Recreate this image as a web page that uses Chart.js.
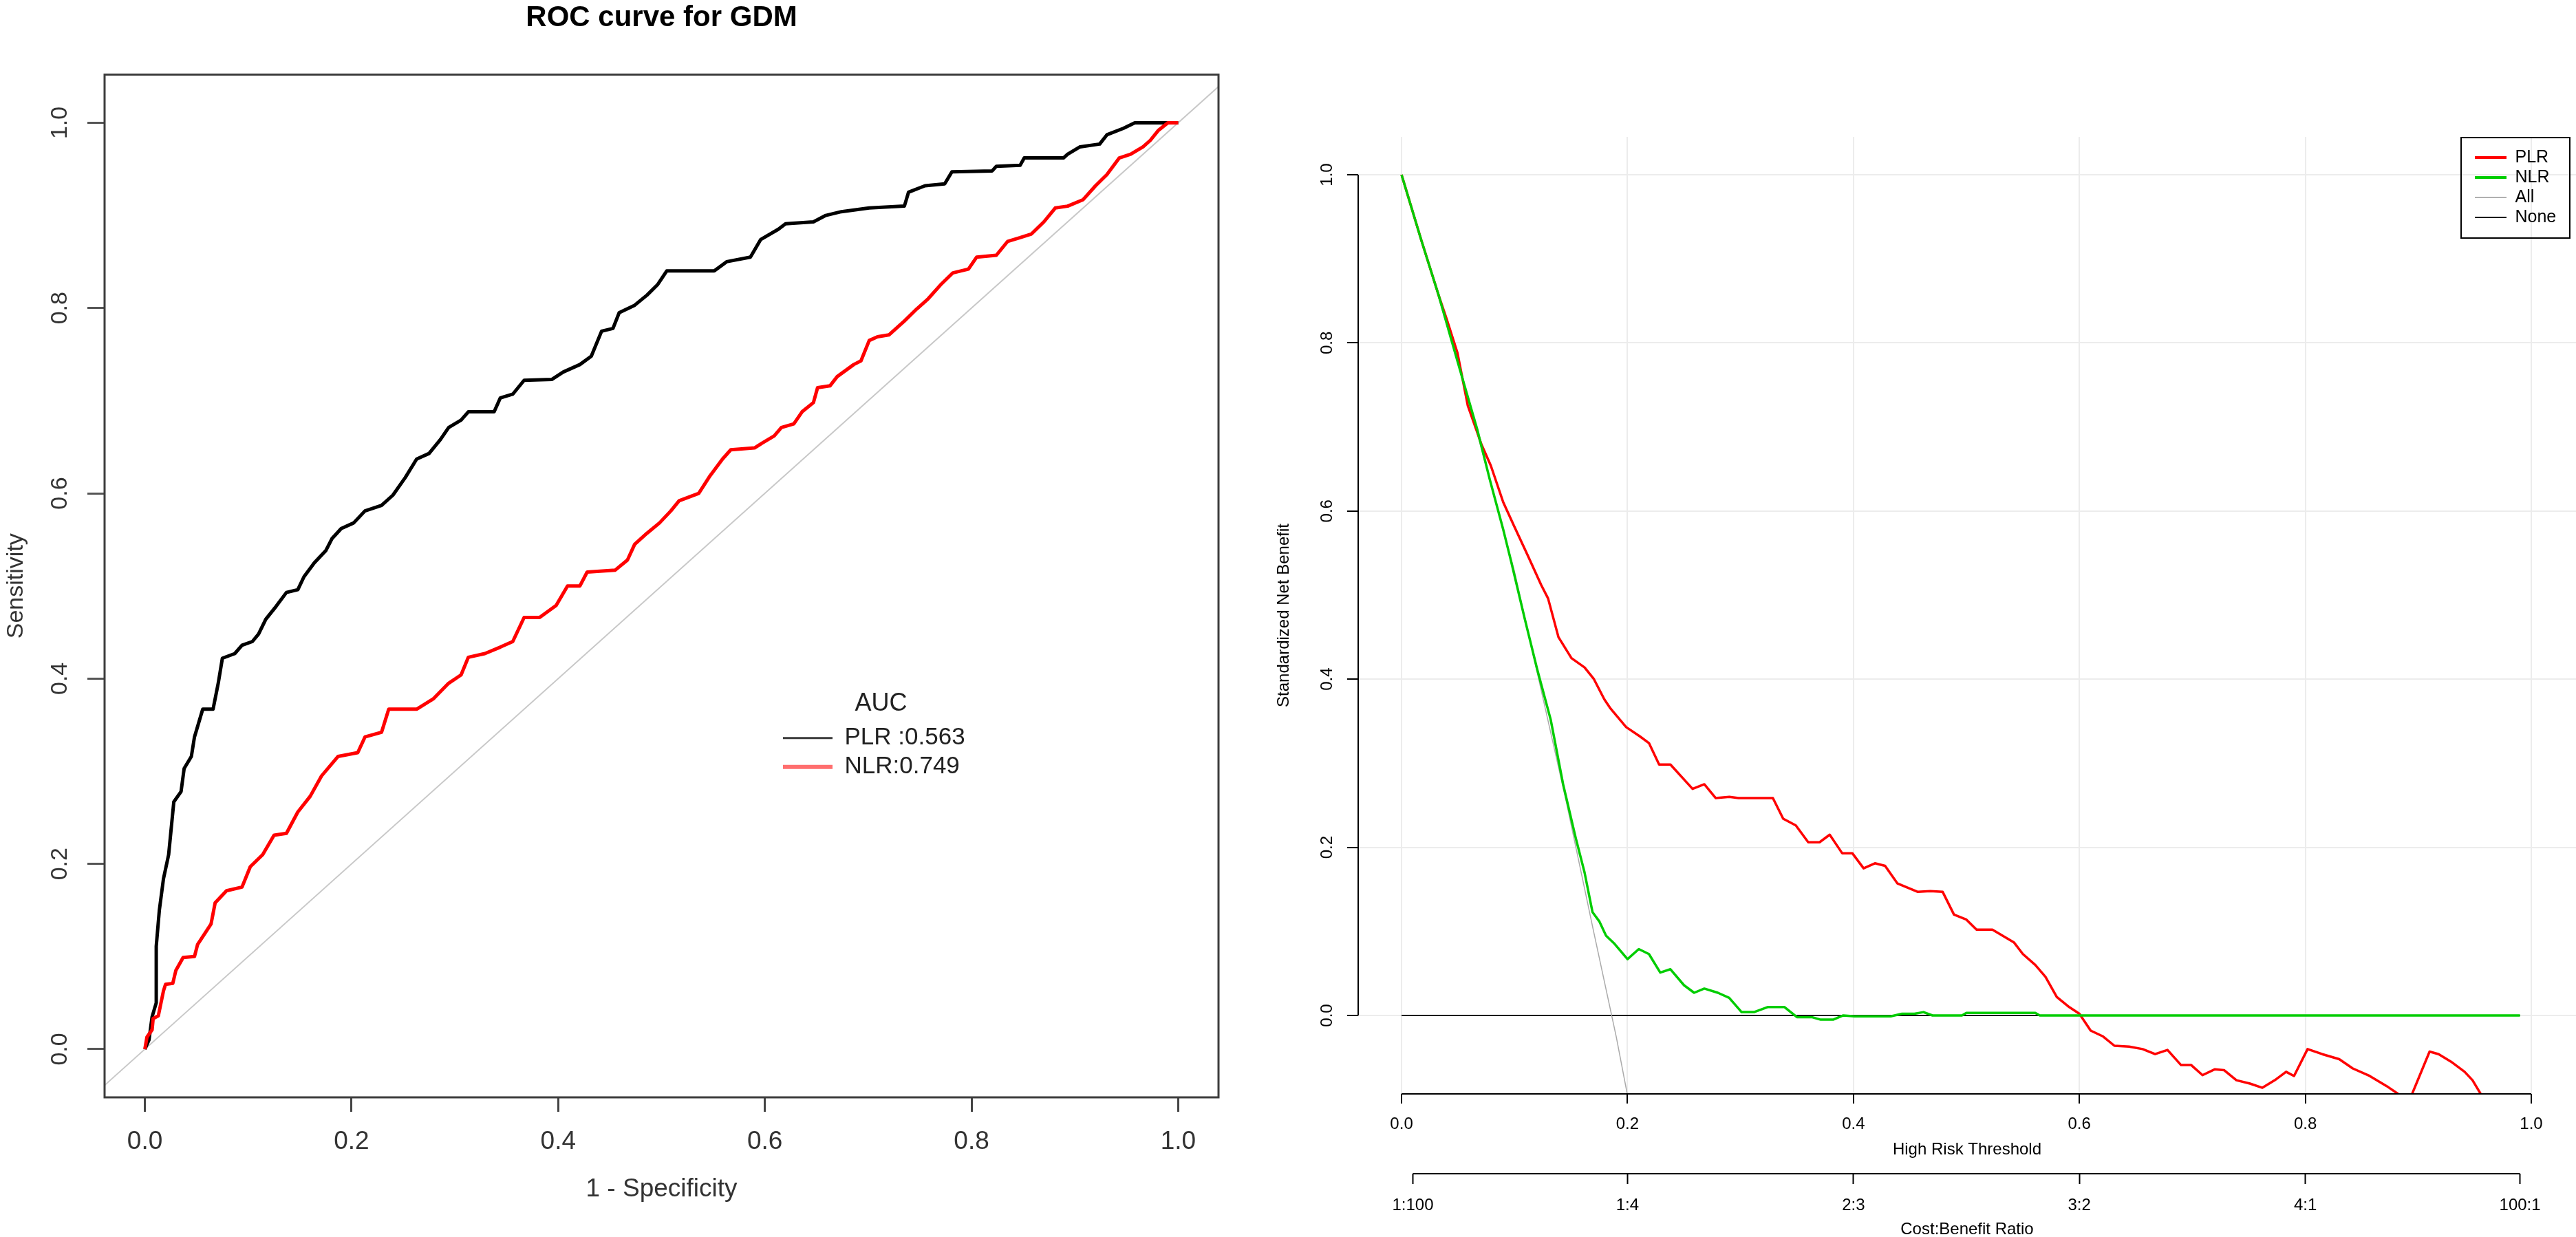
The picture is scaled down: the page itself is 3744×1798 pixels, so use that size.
<!DOCTYPE html>
<html>
<head>
<meta charset="utf-8">
<title>ROC curve and decision curve</title>
<script src="https://cdn.jsdelivr.net/npm/chart.js@4.4.1/dist/chart.umd.min.js"></script>
<style>
	html, body { margin: 0; padding: 0; background: #fff; }
	#rocBox { position: absolute; left: 0; top: 0; width: 1800px; height: 1798px; }
	#dcaBox { position: absolute; left: 1800px; top: 0; width: 1944px; height: 1798px; }
</style>
</head>
<body>
<div id="rocBox"><canvas id="chartRoc"></canvas></div>
<div id="dcaBox"><canvas id="chartDca"></canvas></div>
<script>
// ---- ROC data ----
const rocTicks = [0, 0.2, 0.4, 0.6, 0.8, 1.0];
const rocTickLabels = ["0.0", "0.2", "0.4", "0.6", "0.8", "1.0"];

const plrFpr = [0, 0.004, 0.007, 0.011, 0.011, 0.014, 0.018, 0.023, 0.028, 0.035, 0.038, 0.045, 0.048, 0.052, 0.056,
	0.066, 0.071, 0.075, 0.087, 0.094, 0.104, 0.11, 0.117, 0.127, 0.137, 0.148, 0.154, 0.164, 0.175, 0.181,
	0.19, 0.202, 0.213, 0.229, 0.24, 0.252, 0.263, 0.275, 0.286, 0.294, 0.306, 0.313, 0.338, 0.344, 0.356,
	0.367, 0.394, 0.405, 0.421, 0.432, 0.442, 0.453, 0.459, 0.474, 0.486, 0.496, 0.505, 0.551, 0.563, 0.586,
	0.596, 0.613, 0.62, 0.647, 0.659, 0.674, 0.701, 0.735, 0.739, 0.755, 0.774, 0.781, 0.82, 0.824, 0.847,
	0.851, 0.889, 0.893, 0.905, 0.924, 0.931, 0.947, 0.958, 0.989, 1.0];
const plrTpr = [0, 0.01, 0.035, 0.05, 0.111, 0.15, 0.184, 0.21, 0.267, 0.278, 0.303, 0.316, 0.337, 0.352, 0.367,
	0.367, 0.395, 0.422, 0.427, 0.436, 0.44, 0.448, 0.464, 0.478, 0.493, 0.496, 0.51, 0.525, 0.538, 0.551,
	0.562, 0.568, 0.581, 0.587, 0.598, 0.617, 0.637, 0.643, 0.658, 0.671, 0.679, 0.688, 0.688, 0.703, 0.707,
	0.722, 0.723, 0.731, 0.739, 0.748, 0.775, 0.778, 0.795, 0.803, 0.814, 0.825, 0.84, 0.84, 0.85, 0.855,
	0.874, 0.885, 0.891, 0.893, 0.9, 0.904, 0.908, 0.91, 0.925, 0.932, 0.934, 0.947, 0.948, 0.953, 0.954,
	0.962, 0.962, 0.966, 0.974, 0.977, 0.987, 0.994, 1.0, 1.0, 1.0];

const nlrFpr = [0, 0.002, 0.007, 0.008, 0.013, 0.018, 0.02, 0.027, 0.03, 0.037, 0.048, 0.051, 0.064, 0.068, 0.079,
	0.094, 0.102, 0.114, 0.125, 0.137, 0.148, 0.16, 0.171, 0.187, 0.206, 0.213, 0.229, 0.236, 0.263, 0.279,
	0.294, 0.306, 0.313, 0.329, 0.344, 0.356, 0.367, 0.382, 0.398, 0.409, 0.421, 0.428, 0.455, 0.467, 0.474,
	0.486, 0.498, 0.509, 0.517, 0.536, 0.547, 0.559, 0.567, 0.59, 0.597, 0.609, 0.616, 0.628, 0.636, 0.647,
	0.651, 0.663, 0.67, 0.686, 0.693, 0.701, 0.709, 0.72, 0.735, 0.747, 0.758, 0.77, 0.782, 0.797, 0.805,
	0.824, 0.835, 0.847, 0.858, 0.87, 0.881, 0.893, 0.908, 0.92, 0.931, 0.943, 0.954, 0.966, 0.973, 0.981,
	0.99, 1.0];
const nlrTpr = [0, 0.013, 0.021, 0.033, 0.036, 0.063, 0.07, 0.071, 0.085, 0.099, 0.1, 0.113, 0.135, 0.158, 0.171,
	0.175, 0.197, 0.21, 0.231, 0.233, 0.256, 0.273, 0.295, 0.316, 0.32, 0.337, 0.342, 0.367, 0.367, 0.378,
	0.395, 0.404, 0.423, 0.427, 0.434, 0.44, 0.466, 0.466, 0.479, 0.5, 0.5, 0.515, 0.517, 0.528, 0.545,
	0.557, 0.568, 0.581, 0.592, 0.6, 0.619, 0.637, 0.647, 0.649, 0.654, 0.662, 0.671, 0.675, 0.688, 0.698,
	0.714, 0.716, 0.726, 0.739, 0.743, 0.765, 0.769, 0.771, 0.786, 0.799, 0.81, 0.825, 0.838, 0.842, 0.855,
	0.857, 0.872, 0.876, 0.88, 0.893, 0.908, 0.91, 0.917, 0.932, 0.944, 0.962, 0.966, 0.974, 0.981, 0.992,
	1.0, 1.0];

const diagX = [-0.2, 1.2];
const diagY = [-0.2, 1.2];

// ---- Decision curve data ----
const dcaTicks = [0, 0.2, 0.4, 0.6, 0.8, 1.0];
const dcaTickLabels = ["0.0", "0.2", "0.4", "0.6", "0.8", "1.0"];
const ratioTicks = [0.01, 0.2, 0.4, 0.6, 0.8, 0.99];
const ratioLabels = ["1:100", "1:4", "2:3", "3:2", "4:1", "100:1"];

const plrThreshold = [0, 0.0175, 0.033, 0.04, 0.0495, 0.0587, 0.0708, 0.079, 0.09, 0.0993, 0.1114, 0.1236, 0.1297, 0.1389, 0.1504,
	0.162, 0.1703, 0.1795, 0.185, 0.1988, 0.2109, 0.219, 0.228, 0.238, 0.2576, 0.268, 0.278, 0.2902, 0.2983, 0.3287,
	0.3378, 0.349, 0.36, 0.37, 0.379, 0.39, 0.399, 0.409, 0.419, 0.428, 0.439, 0.457, 0.468, 0.479, 0.489,
	0.5, 0.509, 0.523, 0.542, 0.55, 0.561, 0.57, 0.58, 0.591, 0.6, 0.61, 0.621, 0.631, 0.644, 0.656,
	0.667, 0.678, 0.69, 0.699, 0.709, 0.72, 0.728, 0.739, 0.751, 0.762, 0.773, 0.783, 0.79, 0.802, 0.815,
	0.83, 0.842, 0.857, 0.872, 0.884, 0.889, 0.894, 0.91, 0.918, 0.929, 0.941, 0.948, 0.956, 0.962];
const plrBenefit = [1.0, 0.922, 0.856, 0.828, 0.788, 0.725, 0.679, 0.654, 0.6105, 0.583, 0.548, 0.512, 0.496, 0.45, 0.425,
	0.414, 0.4, 0.376, 0.365, 0.343, 0.332, 0.324, 0.2985, 0.2985, 0.2695, 0.275, 0.2586, 0.26, 0.2586, 0.2586,
	0.234, 0.226, 0.206, 0.206, 0.215, 0.193, 0.193, 0.175, 0.181, 0.178, 0.157, 0.147, 0.148, 0.147, 0.12,
	0.114, 0.102, 0.102, 0.087, 0.073, 0.06, 0.046, 0.022, 0.01, 0.002, -0.018, -0.025, -0.036, -0.037, -0.04,
	-0.046, -0.041, -0.059, -0.059, -0.071, -0.064, -0.065, -0.077, -0.081, -0.086, -0.077, -0.067, -0.072, -0.04, -0.046,
	-0.052, -0.063, -0.072, -0.084, -0.095, -0.11, -0.095, -0.043, -0.046, -0.055, -0.067, -0.077, -0.095, -0.12];

const nlrThreshold = [0, 0.0175, 0.033, 0.044, 0.056, 0.067, 0.078, 0.09, 0.097, 0.109, 0.12, 0.132, 0.143, 0.154, 0.162,
	0.169, 0.175, 0.181, 0.188, 0.2, 0.21, 0.219, 0.229, 0.238, 0.25, 0.259, 0.268, 0.28, 0.29, 0.301,
	0.312, 0.324, 0.339, 0.35, 0.363, 0.371, 0.382, 0.391, 0.401, 0.433, 0.443, 0.454, 0.462, 0.47, 0.496,
	0.5, 0.561, 0.565, 0.99];
const nlrBenefit = [1.0, 0.922, 0.856, 0.804, 0.748, 0.697, 0.638, 0.578, 0.54, 0.472, 0.412, 0.352, 0.275, 0.212, 0.17,
	0.123, 0.112, 0.095, 0.086, 0.067, 0.079, 0.073, 0.051, 0.055, 0.036, 0.027, 0.032, 0.027, 0.021, 0.004,
	0.004, 0.01, 0.01, -0.002, -0.002, -0.005, -0.005, 0.0, -0.001, -0.001, 0.002, 0.002, 0.004, 0.0, 0.0,
	0.003, 0.003, 0.0, 0.0];

const allThreshold = [0, 0.05, 0.1, 0.146, 0.17, 0.19, 0.21];
const allBenefit = [1.0, 0.777, 0.528, 0.253, 0.1, -0.025, -0.165];

const noneThreshold = [0, 0.99];
const noneBenefit = [0, 0];

// ---- styles ----
const rocKeyColors = ["#3a3a3a", "#ff6e6e"];
const rocKeyWidths = [3, 6];
const dcaKeyColors = ["#ff0000", "#00cd00", "#b0b0b0", "#000000"];
const dcaKeyWidths = [4, 4, 2, 2];

Chart.defaults.font.family = "'Liberation Sans', Arial, sans-serif";
Chart.defaults.color = "#000";
Chart.defaults.animation = false;

function pairs(xs, ys) {
	return xs.map(function(x, i) { return { x: x, y: ys[i] }; });
}

function fixTicks(values) {
	return function(scale) {
		scale.ticks = values.map(function(v) { return { value: v }; });
	};
}

// move the legend to a spot inside the plot
function placeLegend(left, top, width) {
	return {
		id: "placeLegend",
		afterLayout(chart) {
			const lg = chart.legend;
			lg.left = left;
			lg.top = top;
			lg.width = width;
			lg.right = left + width;
		}
	};
}

const boxFrame = {
	id: "boxFrame",
	afterDraw(chart) {
		const a = chart.chartArea;
		const ctx = chart.ctx;
		ctx.save();
		ctx.strokeStyle = "#3c3c3c";
		ctx.lineWidth = 3;
		ctx.strokeRect(a.left, a.top, a.right - a.left, a.bottom - a.top);
		ctx.restore();
	}
};

// R style axis lines: only between the first and last tick
const axisLines = {
	id: "axisLines",
	afterDraw(chart) {
		const s = chart.scales;
		const a = chart.chartArea;
		const ctx = chart.ctx;
		ctx.save();
		ctx.strokeStyle = "#000";
		ctx.lineWidth = 2;
		ctx.beginPath();
		ctx.moveTo(a.left, s.y.getPixelForValue(dcaTicks[0]));
		ctx.lineTo(a.left, s.y.getPixelForValue(dcaTicks[dcaTicks.length - 1]));
		ctx.moveTo(s.x.getPixelForValue(dcaTicks[0]), a.bottom);
		ctx.lineTo(s.x.getPixelForValue(dcaTicks[dcaTicks.length - 1]), a.bottom);
		ctx.moveTo(s.x2.getPixelForValue(ratioTicks[0]), s.x2.top);
		ctx.lineTo(s.x2.getPixelForValue(ratioTicks[ratioTicks.length - 1]), s.x2.top);
		ctx.stroke();
		// frame round the legend
		const lg = chart.legend;
		ctx.lineWidth = 2;
		ctx.strokeRect(lg.left - 16, lg.top - 12.5, 158, 146);
		ctx.restore();
	}
};


// Graphique ROC
const chartRoc = new Chart(document.getElementById("chartRoc"), {
	type: "line",
	data: {
		datasets: [{
			label: "PLR :0.563",
			data: pairs(plrFpr, plrTpr),
			borderColor: "#000000",
			borderWidth: 5,
			order: 2
		}, {
			label: "NLR:0.749",
			data: pairs(nlrFpr, nlrTpr),
			borderColor: "#ff0000",
			borderWidth: 5,
			order: 1
		}, {
			label: "diagonal",
			data: pairs(diagX, diagY),
			borderColor: "#c8c8c8",
			borderWidth: 2,
			order: 3
		}]
	},
	options: {
		responsive: true,
		maintainAspectRatio: false,
		events: [],
		layout: { padding: { left: 0, right: 29, top: 0, bottom: 0 } },
		elements: {
			point: { radius: 0 },
			line: { tension: 0, borderJoinStyle: "round", fill: false }
		},
		plugins: {
			tooltip: { enabled: false },
			title: {
				display: true,
				text: "ROC curve for GDM",
				fullSize: false,
				color: "#000",
				font: { size: 42, weight: "bold" },
				padding: { top: 1, bottom: 57 }
			},
			legend: {
				position: "chartArea",
				align: "start",
				title: { display: true, text: "AUC", position: "center", color: "#222", font: { size: 36 } },
				labels: {
					usePointStyle: true,
					pointStyle: "line",
					pointStyleWidth: 72,
					padding: 7,
					color: "#222",
					font: { size: 35 },
					sort: function(a, b) { return a.datasetIndex - b.datasetIndex; },
					generateLabels: function(chart) {
						const items = Chart.defaults.plugins.legend.labels.generateLabels(chart);
						return items.filter(function(it) { return it.datasetIndex < rocKeyColors.length; })
							.map(function(it) {
								it.strokeStyle = rocKeyColors[it.datasetIndex];
								it.lineWidth = rocKeyWidths[it.datasetIndex];
								it.pointStyle = "line";
								it.lineCap = "butt";
								return it;
							});
					}
				}
			}
		},
		scales: {
			x: {
				type: "linear",
				min: -0.039,
				max: 1.039,
				afterBuildTicks: fixTicks(rocTicks),
				afterFit: function(scale) { scale.height = 203; },
				border: { display: false },
				grid: { drawOnChartArea: false, drawTicks: true, tickLength: 21, tickColor: "#444", tickWidth: 3 },
				ticks: {
					autoSkip: false,
					maxRotation: 0,
					padding: 22,
					color: "#333",
					font: { size: 37 },
					callback: function(v, i) { return rocTickLabels[i]; }
				},
				title: { display: true, text: "1 - Specificity", color: "#333", font: { size: 37 }, padding: { top: 0, bottom: 47 } }
			},
			y: {
				type: "linear",
				min: -0.052,
				max: 1.052,
				afterBuildTicks: fixTicks(rocTicks),
				afterFit: function(scale) { scale.width = 152; },
				border: { display: false },
				grid: { drawOnChartArea: false, drawTicks: true, tickLength: 25, tickColor: "#555", tickWidth: 3 },
				ticks: {
					autoSkip: false,
					minRotation: 90,
					maxRotation: 90,
					crossAlign: "center",
					padding: 16,
					color: "#333",
					font: { size: 34 },
					callback: function(v, i) { return rocTickLabels[i]; }
				},
				title: { display: true, text: "Sensitivity", color: "#333", font: { size: 34 }, padding: { top: 3, bottom: 0 } }
			}
		}
	},
	plugins: [boxFrame, placeLegend(1131, 1005, 299)]
});


// Graphique decision curve
const chartDca = new Chart(document.getElementById("chartDca"), {
	type: "line",
	data: {
		datasets: [{
			label: "PLR",
			data: pairs(plrThreshold, plrBenefit),
			borderColor: "#ff0000",
			borderWidth: 3.5,
			order: 2
		}, {
			label: "NLR",
			data: pairs(nlrThreshold, nlrBenefit),
			borderColor: "#00cd00",
			borderWidth: 3.5,
			order: 1
		}, {
			label: "All",
			data: pairs(allThreshold, allBenefit),
			borderColor: "#aaaaaa",
			borderWidth: 1.5,
			order: 3
		}, {
			label: "None",
			data: pairs(noneThreshold, noneBenefit),
			borderColor: "#000000",
			borderWidth: 2,
			order: 4
		}]
	},
	options: {
		responsive: true,
		maintainAspectRatio: false,
		events: [],
		layout: { padding: { left: 0, right: 0, top: 199, bottom: 0 } },
		elements: {
			point: { radius: 0 },
			line: { tension: 0, borderJoinStyle: "round", fill: false }
		},
		plugins: {
			tooltip: { enabled: false },
			legend: {
				position: "chartArea",
				align: "start",
				labels: {
					usePointStyle: true,
					pointStyle: "line",
					pointStyleWidth: 46,
					padding: 4,
					color: "#000",
					font: { size: 25 },
					sort: function(a, b) { return a.datasetIndex - b.datasetIndex; },
					generateLabels: function(chart) {
						const items = Chart.defaults.plugins.legend.labels.generateLabels(chart);
						return items.map(function(it) {
							it.strokeStyle = dcaKeyColors[it.datasetIndex];
							it.lineWidth = dcaKeyWidths[it.datasetIndex];
							it.pointStyle = "line";
							it.lineCap = "butt";
							return it;
						});
					}
				}
			}
		},
		scales: {
			x: {
				type: "linear",
				position: "bottom",
				min: -0.0384,
				max: 1.0396,
				afterBuildTicks: fixTicks(dcaTicks),
				afterFit: function(scale) { scale.height = 116; },
				border: { display: false },
				grid: { color: "#ececec", lineWidth: 2, tickLength: 14, tickColor: "#000", tickWidth: 2 },
				ticks: {
					autoSkip: false,
					maxRotation: 0,
					padding: 15.6,
					font: { size: 24 },
					callback: function(v, i) { return dcaTickLabels[i]; }
				},
				title: { display: true, text: "High Risk Threshold", font: { size: 24 }, padding: { top: 0, bottom: 20.6 } }
			},
			x2: {
				type: "linear",
				position: "bottom",
				min: -0.0384,
				max: 1.0396,
				afterBuildTicks: fixTicks(ratioTicks),
				afterFit: function(scale) { scale.height = 92; },
				border: { display: false },
				grid: { drawOnChartArea: false, tickLength: 15, tickColor: "#000", tickWidth: 2 },
				ticks: {
					autoSkip: false,
					maxRotation: 0,
					padding: 16.6,
					font: { size: 24 },
					callback: function(v, i) { return ratioLabels[i]; }
				},
				title: { display: true, text: "Cost:Benefit Ratio", font: { size: 24, lineHeight: 1 }, padding: { top: 0, bottom: -1 } }
			},
			y: {
				type: "linear",
				min: -0.0933,
				max: 1.045,
				afterBuildTicks: fixTicks(dcaTicks),
				afterFit: function(scale) { scale.width = 174; },
				border: { display: false },
				grid: { color: "#ececec", lineWidth: 2, tickLength: 16, tickColor: "#000", tickWidth: 2 },
				ticks: {
					autoSkip: false,
					minRotation: 90,
					maxRotation: 90,
					crossAlign: "center",
					padding: 12.3,
					font: { size: 24 },
					callback: function(v, i) { return dcaTickLabels[i]; }
				},
				title: { display: true, text: "Standardized Net Benefit", font: { size: 24 }, padding: { top: 51.6, bottom: 0 } }
			}
		}
	},
	plugins: [axisLines, placeLegend(1793, 212.5, 150)]
});
</script>
</body>
</html>
